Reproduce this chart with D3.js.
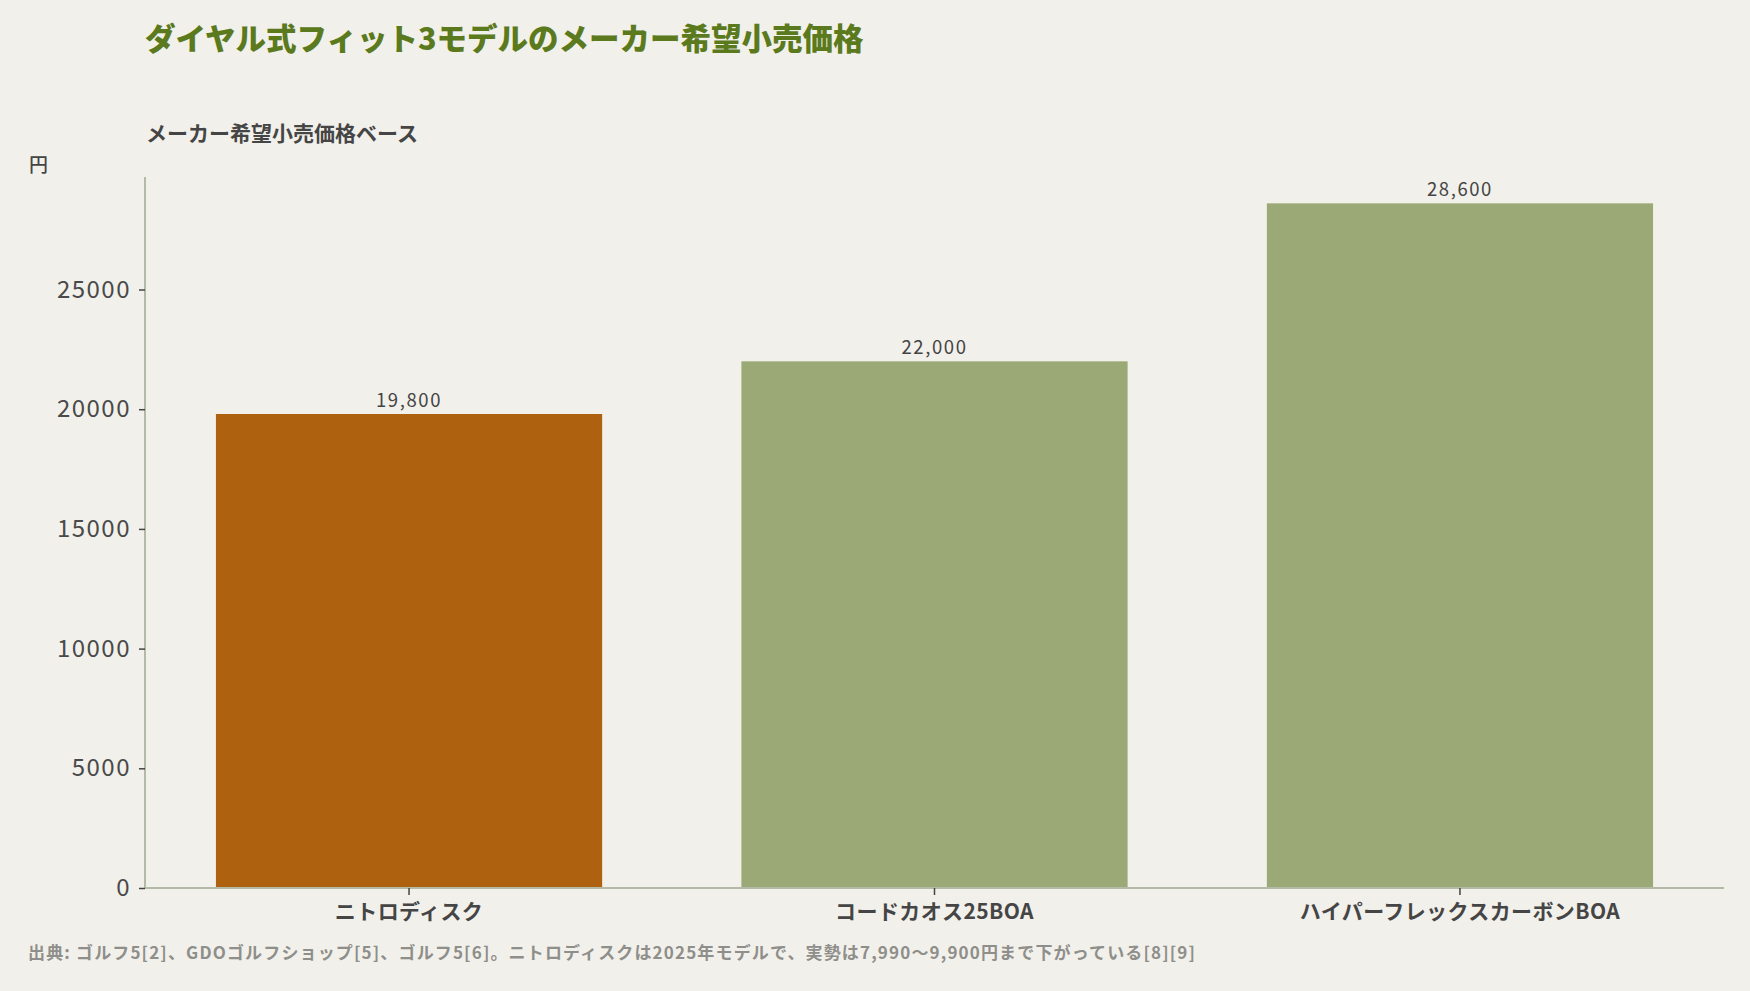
<!DOCTYPE html>
<html>
<head>
<meta charset="utf-8">
<script src="https://cdn.jsdelivr.net/npm/d3@7"></script>
<style>
  body { margin: 0; background: #f2f0ea; }
  text { font-family: "Noto Sans CJK JP", "Noto Sans", sans-serif; }
</style>
</head>
<body>
<div id="chart"></div>
<script>
// data
const models = ["ニトロディスク", "コードカオス25BOA", "ハイパーフレックスカーボンBOA"];
const prices = [19800, 22000, 28600];
const barColors = ["#ae620f", "#9ba977", "#9ba977"];
const yTicks = [0, 5000, 10000, 15000, 20000, 25000];

const titleText = "ダイヤル式フィット3モデルのメーカー希望小売価格";
const subtitleText = "メーカー希望小売価格ベース";
const unitText = "円";
const sourceText = "出典: ゴルフ5[2]、GDOゴルフショップ[5]、ゴルフ5[6]。ニトロディスクは2025年モデルで、実勢は7,990〜9,900円まで下がっている[8][9]";

const W = 1750, H = 991;
const margin = { top: 177, right: 26, bottom: 103, left: 145 };
const width = W - margin.left - margin.right;
const height = H - margin.top - margin.bottom;

const svg = d3.select("#chart")
    .append("svg")
    .attr("width", W)
    .attr("height", H)
    .style("background", "#f2f0ea");

// titles
svg.append("text")
    .attr("x", 145)
    .attr("y", 50)
    .attr("font-size", 30.5)
    .attr("font-weight", 900)
    .attr("fill", "#5b7a1e")
    .text(titleText);

svg.append("text")
    .attr("x", 146)
    .attr("y", 141)
    .attr("font-size", 21)
    .attr("font-weight", 600)
    .attr("fill", "#454545")
    .text(subtitleText);

svg.append("text")
    .attr("x", 29)
    .attr("y", 172)
    .attr("font-size", 19)
    .attr("font-weight", 500)
    .attr("fill", "#454545")
    .text(unitText);

const g = svg.append("g")
    .attr("transform", `translate(${margin.left},${margin.top})`);

// scales
const x = d3.scaleBand()
    .domain(models)
    .range([0, width])
    .paddingInner(0.265)
    .paddingOuter(0.135);

const y = d3.scaleLinear()
    .domain([0, 29700])
    .range([height, 0]);

// bars
g.selectAll(".bar")
    .data(models)
    .join("rect")
    .attr("class", "bar")
    .attr("x", d => x(d))
    .attr("y", (d, i) => y(prices[i]))
    .attr("width", x.bandwidth())
    .attr("height", (d, i) => y(0) - y(prices[i]))
    .attr("fill", (d, i) => barColors[i]);

// value labels
g.selectAll(".val")
    .data(models)
    .join("text")
    .attr("class", "val")
    .attr("x", d => x(d) + x.bandwidth() / 2)
    .attr("y", (d, i) => y(prices[i]) - 7)
    .attr("text-anchor", "middle")
    .attr("font-size", 18.5)
    .attr("letter-spacing", 1.6)
    .attr("fill", "#444")
    .text((d, i) => d3.format(",")(prices[i]));

// y axis
const yAxis = g.append("g")
    .call(d3.axisLeft(y).tickValues(yTicks).tickSize(6).tickPadding(8).tickFormat(d3.format("d")));
yAxis.select(".domain").attr("stroke", "#b3baa5").attr("stroke-width", 2).attr("d", `M0,0V${height}`);
yAxis.selectAll(".tick line").attr("stroke", "#444").attr("stroke-width", 1.5);
yAxis.selectAll(".tick text")
    .attr("font-size", 24)
    .attr("letter-spacing", 1.5)
    .attr("fill", "#4a4a4a")
    .style("font-family", "'Noto Sans CJK JP', sans-serif");

// x axis
const xAxis = g.append("g")
    .attr("transform", `translate(0,${height})`)
    .call(d3.axisBottom(x).tickSize(7).tickPadding(9));
xAxis.select(".domain").attr("stroke", "#b3baa5").attr("stroke-width", 2).attr("d", `M0,0H${width}`);
xAxis.selectAll(".tick line").attr("stroke", "#444").attr("stroke-width", 1.5);
xAxis.selectAll(".tick text")
    .attr("font-size", 21)
    .attr("font-weight", 700)
    .attr("letter-spacing", 0.4)
    .attr("fill", "#454545")
    .style("font-family", "'Noto Sans CJK JP', sans-serif");

// source note
svg.append("text")
    .attr("x", 28)
    .attr("y", 959)
    .attr("font-size", 17)
    .attr("font-weight", 600)
    .attr("letter-spacing", 1.15)
    .attr("fill", "#8e8e8a")
    .text(sourceText);
</script>
</body>
</html>
